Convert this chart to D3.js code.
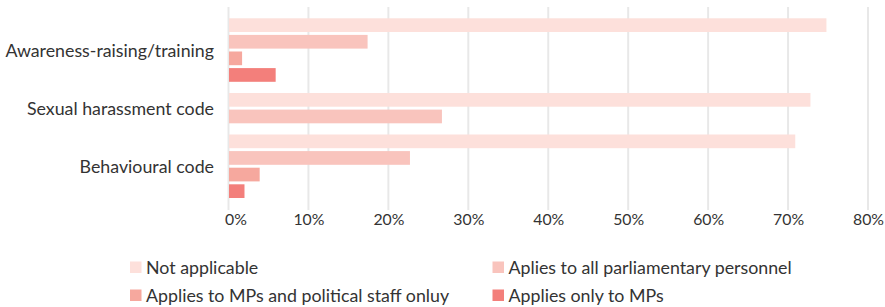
<!DOCTYPE html>
<html><head><meta charset="utf-8">
<script src="https://cdn.jsdelivr.net/npm/d3@7"></script>
<style>
html,body{margin:0;padding:0;background:#fff;}
text{font-family:Lato,"Open Sans",sans-serif;fill:#333;}
</style></head>
<body><svg id="c" width="885" height="307"></svg>
<script>
const categories = ["Awareness-raising/training", "Sexual harassment code", "Behavioural code"];
const seriesNames = ["Not applicable", "Aplies to all parliamentary personnel", "Applies to MPs and political staff onluy", "Applies only to MPs"];
const notApplicable = [74.8, 72.8, 70.9];
const allPersonnel = [17.4, 26.7, 22.7];
const mpsAndStaff = [1.7, null, 3.9];
const onlyMPs = [5.9, null, 2.0];
const tickValues = [0, 10, 20, 30, 40, 50, 60, 70, 80];
const colors = ["#fde0db", "#f9c4bd", "#f6a89e", "#f37f7b"];

const svg = d3.select("#c");
const x = d3.scaleLinear().domain([0, 80]).range([228.5, 868]);
const seriesVals = [notApplicable, allPersonnel, mpsAndStaff, onlyMPs];

// gridlines
const plotTop = 7, plotBottom = 210;
svg.append("g").selectAll("line").data(tickValues).join("line")
  .attr("x1", d => x(d)).attr("x2", d => x(d))
  .attr("y1", plotTop).attr("y2", plotBottom)
  .attr("stroke", "#e8e8e8").attr("stroke-width", 2);

// groups with variable heights (only present series)
const step = 16.6, barH = 13.7, groupGap = 8.3;
let cursor = 18.3;
const groups = categories.map((c, i) => {
  const present = seriesNames.map((s, k) => ({s, k, v: seriesVals[k][i]})).filter(d => d.v != null);
  const start = cursor;
  const end = start + present.length * step;
  cursor = end + groupGap;
  const band = d3.scaleBand().domain(present.map(d => d.s)).range([start, end]).paddingInner(1 - barH / step).paddingOuter((1 - barH / step) / 2);
  return {c, present, band, start, end};
});

groups.forEach(g => {
  svg.append("g").selectAll("rect").data(g.present).join("rect")
    .attr("x", x(0) + 0.5)
    .attr("y", d => g.band(d.s) - (step - barH) / 2)
    .attr("width", d => x(d.v) - x(0) - 0.5)
    .attr("height", g.band.bandwidth())
    .attr("fill", d => colors[d.k]);
  const yc = g.start + (g.end - g.start - (step - barH)) / 2;
  svg.append("text").attr("x", 214).attr("y", yc).attr("text-anchor", "end")
    .attr("dominant-baseline", "central").attr("font-size", 17.8).text(g.c);
});

// x axis labels
const axis = d3.axisBottom(x).tickValues(tickValues).tickFormat(d => d + "%").tickSize(0).tickPadding(0);
const ax = svg.append("g").attr("transform", "translate(0,214)").call(axis);
ax.select(".domain").remove();
ax.selectAll("text").attr("font-size", 15.8).attr("fill", "#333")
  .attr("font-family", "Lato, 'Open Sans', sans-serif")
  .attr("dx", (d, i) => i === 0 ? 7 : 0);

// legend
const legPos = [[130, 267], [492.5, 267], [130, 295], [492.5, 295]];
const leg = svg.append("g").selectAll("g").data(seriesNames).join("g")
  .attr("transform", (d, i) => `translate(${legPos[i][0]},${legPos[i][1]})`);
leg.append("rect").attr("x", 0).attr("y", -5.5).attr("width", 11.5).attr("height", 11.5)
  .attr("fill", (d, i) => colors[i]);
leg.append("text").attr("x", 16).attr("y", 0).attr("dominant-baseline", "central")
  .attr("font-size", 17.8).text(d => d);
</script></body></html>
